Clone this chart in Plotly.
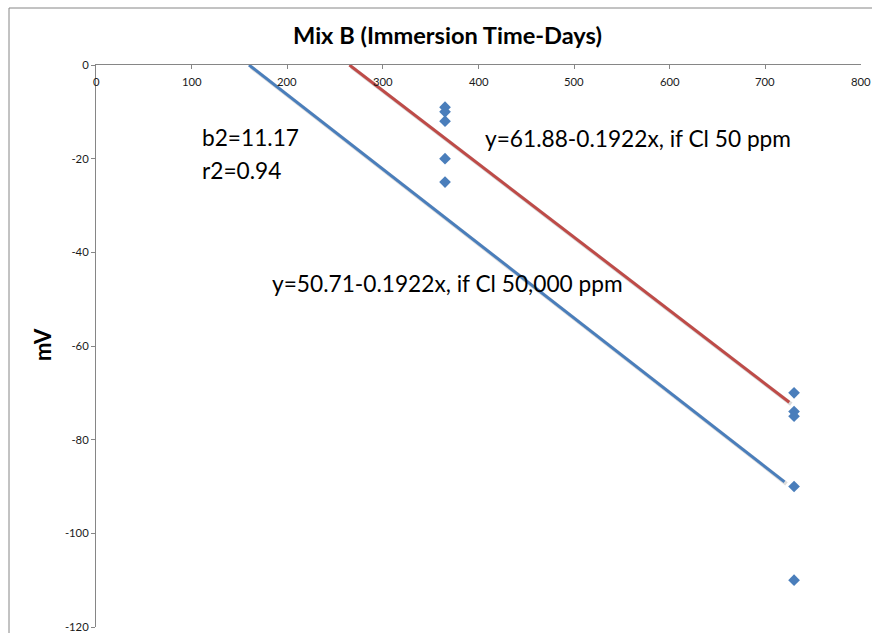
import plotly.graph_objects as go

# Half-cell potential readings vs immersion time
days = [365, 365, 365, 365, 365, 730, 730, 730, 730, 730]
mv = [-9, -10, -12, -20, -25, -70, -74, -75, -90, -110]

# Trend lines (end points) for the two chloride levels
cl50_x = [265, 725]
cl50_y = [0, -72]
cl50k_x = [160, 720]
cl50k_y = [0, -89]

x_ticks = [0, 100, 200, 300, 400, 500, 600, 700, 800]
y_ticks = [0, -20, -40, -60, -80, -100, -120]

BLUE = "#4a7ebb"
RED = "#be4b48"
AXIS = "#868686"
FONT = "Lato"
TICK_SIZE = 11.3

# plot-area geometry in pixels
W, H = 872, 633
L, R, T, B = 96, 11, 65, 6
pw, ph = W - L - R, H - T - B
x_per_px = 800 / pw
y_per_px = 120 / ph


def shadow(xs, ys, dx=2, dy=2):
    return [x + dx * x_per_px for x in xs], [y - dy * y_per_px for y in ys]


fig = go.Figure()

for xs, ys, col in [(cl50k_x, cl50k_y, BLUE), (cl50_x, cl50_y, RED)]:
    sx, sy = shadow(xs, ys)
    fig.add_trace(go.Scatter(x=sx, y=sy, mode="lines",
                             line=dict(color="rgba(0,0,0,0.14)", width=4),
                             hoverinfo="skip", showlegend=False))
    fig.add_trace(go.Scatter(x=xs, y=ys, mode="lines",
                             line=dict(color=col, width=3),
                             showlegend=False))

fig.add_trace(go.Scatter(x=days, y=mv, mode="markers",
                         marker=dict(symbol="diamond", size=9, color=BLUE),
                         showlegend=False))


def px_to_paper(px, py):
    return (px - L) / pw, (H - B - py) / ph


annots = []
tx, ty = px_to_paper(447, 35)
annots.append(dict(x=tx, y=ty, xref="paper", yref="paper", showarrow=False,
                   text="<b>Mix B (Immersion Time-Days)</b>",
                   font=dict(family=FONT, size=23.6, color="#000000"),
                   xanchor="center", yanchor="middle"))
mx, my = px_to_paper(42, 345)
annots.append(dict(x=mx, y=my, xref="paper", yref="paper", showarrow=False,
                   text="<b>mV</b>", textangle=-90,
                   font=dict(family=FONT, size=22, color="#000000"),
                   xanchor="center", yanchor="middle"))

# x tick labels sit just below the axis line drawn along y = 0
_, xl_y = px_to_paper(0, 81)
for v in x_ticks:
    annots.append(dict(x=v, y=xl_y, xref="x", yref="paper", showarrow=False,
                       text=str(v), font=dict(family=FONT, size=TICK_SIZE, color="#1a1a1a"),
                       xanchor="center", yanchor="middle"))

labels = [
    ("b2=11.17", 200, 137),
    ("r2=0.94", 200, 170),
    ("y=61.88-0.1922x, if Cl 50 ppm", 483, 138),
    ("y=50.71-0.1922x, if Cl 50,000 ppm", 270, 283),
]
for text, px, py in labels:
    ax_, ay_ = px_to_paper(px, py)
    annots.append(dict(x=ax_, y=ay_, xref="paper", yref="paper", showarrow=False,
                       text=text, font=dict(family=FONT, size=22.7, color="#000000"),
                       xanchor="left", yanchor="middle"))

# outer chart border
bx0, by0 = px_to_paper(9, 640)
bx1, by1 = px_to_paper(875, 8)

fig.update_layout(
    width=W, height=H,
    margin=dict(l=L, r=R, t=T, b=B, autoexpand=False),
    paper_bgcolor="white", plot_bgcolor="white",
    annotations=annots,
    shapes=[dict(type="rect", xref="paper", yref="paper",
                 x0=bx0, y0=by0, x1=bx1, y1=by1,
                 line=dict(color=AXIS, width=1), layer="below")],
    xaxis=dict(range=[0, 800], tickvals=x_ticks, side="top",
               ticks="inside", ticklen=4, tickcolor=AXIS,
               showticklabels=False,
               showline=True, linecolor=AXIS, linewidth=1,
               showgrid=False, zeroline=False),
    yaxis=dict(range=[-120, 0], tickvals=y_ticks,
               ticktext=[str(v) for v in y_ticks],
               ticks="outside", ticklen=4, tickcolor=AXIS,
               showline=True, linecolor=AXIS, linewidth=1,
               showgrid=False, zeroline=False,
               tickfont=dict(family=FONT, size=TICK_SIZE, color="#1a1a1a")),
)

fig.write_html("out.html")
